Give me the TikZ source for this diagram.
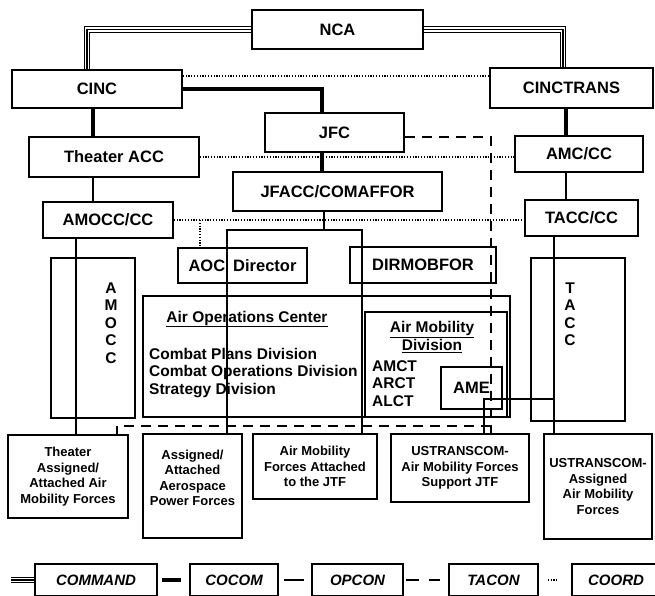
\documentclass[tikz,border=0pt]{standalone}
\usepackage{fontspec}
\setmainfont{Liberation Sans}
\usetikzlibrary{calc}

\tikzset{
  cmdbox/.style 2 args={draw, line width=1.7pt, minimum width=#1, minimum height=#2, inner sep=0pt, align=center, font=\fontsize{16.5}{18}\selectfont\bfseries},
  forcebox/.style 2 args={draw, line width=1.7pt, minimum width=#1, minimum height=#2, inner sep=0pt, align=center, font=\fontsize{13}{15.5}\selectfont\bfseries},
  legendbox/.style={draw, line width=1.7pt, minimum width=#1, minimum height=32pt, inner sep=0pt, font=\fontsize{15}{18}\selectfont\bfseries\itshape},
  lbl/.style={inner sep=0pt, align=center, font=\fontsize{15.5}{17.5}\selectfont\bfseries},
  cmdline/.style={line width=6.5pt, postaction={draw=white, line width=4.3pt}, postaction={draw=black, line width=1.1pt}},
  cocomline/.style={line width=4pt},
  opconline/.style={line width=1.5pt},
  taconline/.style={line width=2pt, dash pattern=on 10pt off 7pt},
  coordline/.style={line width=1.6pt, dash pattern=on 1.2pt off 1.6pt}
}

\begin{document}
\begin{tikzpicture}[x=1pt,y=-1pt]
\clip (0,0) rectangle (655,595);

% command chain
\node[cmdbox={171pt}{39pt}] (nca) at (337.5,29.5) {NCA};
\node[cmdbox={170pt}{38pt}] (cinc) at (97,89) {CINC};
\node[cmdbox={163pt}{40pt}] (cinctrans) at (571.5,88) {CINCTRANS};
\node[cmdbox={139pt}{39pt}] (jfc) at (334.5,132.5) {JFC};
\node[cmdbox={170pt}{40pt}] (thacc) at (114,157) {Theater ACC};
\node[cmdbox={128pt}{36pt}] (amc) at (579,154) {AMC/CC};
\node[cmdbox={209pt}{39pt}] (jfacc) at (337.5,191.5) {JFACC/COMAFFOR};
\node[cmdbox={130pt}{36pt}] (amocccc) at (108,220) {AMOCC/CC};
\node[cmdbox={113pt}{36pt}] (tacccc) at (581.5,218) {TACC/CC};
\node[cmdbox={129pt}{35pt}] (aocdir) at (242.5,265.5) {AOC\hspace{8pt}Director};
\node[cmdbox={146pt}{36pt}] (dirmob) at (423,265) {DIRMOBFOR};

% operations centers
\node[cmdbox={84pt}{160pt}] (amocc) at (93,338) {};
\node[lbl] (amocclbl) at (111,323) {A\\M\\O\\C\\C};
\node[cmdbox={94pt}{163pt}] (taccbox) at (578,339.5) {};
\node[lbl] (tacclbl) at (570,314) {T\\A\\C\\C};

\node[cmdbox={367pt}{121pt}] (aoc) at (326.5,356.5) {};
\node[lbl] (aoctitle) at (247,319) {\underline{Air Operations Center}};
\node[lbl, align=left, anchor=north west] (aocdivs) at (149,348) {Combat Plans Division\\Combat Operations Division\\Strategy Division};

\node[cmdbox={142pt}{105pt}] (amd) at (436,364.5) {};
\node[lbl] (amdtitle) at (432,337) {\underline{Air Mobility}\\\underline{Division}};
\node[lbl, align=left, anchor=north west] (amdteams) at (372,360) {AMCT\\ARCT\\ALCT};
\node[cmdbox={61pt}{42pt}] (ame) at (471.5,388) {AME};

% forces
\node[forcebox={120pt}{83pt}] (thf) at (68,476.5) {Theater\\Assigned/\\Attached Air\\Mobility Forces};
\node[forcebox={99pt}{104pt}, text depth=16pt] (asg) at (192.5,486) {Assigned/\\Attached\\Aerospace\\Power Forces};
\node[forcebox={124pt}{65pt}] (amf) at (315,466.5) {Air Mobility\\Forces Attached\\to the JTF};
\node[forcebox={138pt}{68pt}] (uss) at (460,468) {USTRANSCOM-\\Air Mobility Forces\\Support JTF};
\node[forcebox={108pt}{105pt}] (usa) at (598,486.5) {USTRANSCOM-\\Assigned\\Air Mobility\\Forces};

% links
\draw[cmdline] (nca.west) -| ([xshift=-10pt]cinc.north);
\draw[cmdline] (nca.east) -| ([xshift=-8.5pt]cinctrans.north);
\draw[coordline] ([yshift=13pt]cinc.east) -- ([yshift=13pt]cinc.east -| cinctrans.west);
\draw[cocomline] (cinc.east) -| ([xshift=-12.5pt]jfc.north);
\draw[cocomline] ([xshift=-4pt]cinc.south) -- ([xshift=-4pt]cinc.south |- thacc.north);
\draw[cocomline] ([xshift=-12.5pt]jfc.south) -- ([xshift=-12.5pt]jfc.south |- jfacc.north);
\draw[cocomline] ([xshift=-5.5pt]cinctrans.south) -- ([xshift=-5.5pt]cinctrans.south |- amc.north);
\draw[coordline] (thacc.east) -- (thacc.east -| amc.west);
\draw[opconline] ([xshift=-21pt]thacc.south) -- ([xshift=-21pt]thacc.south |- amocccc.north);
\draw[opconline] ([xshift=-13pt]amc.south) -- ([xshift=-13pt]amc.south |- tacccc.north);
\draw[coordline] (amocccc.east) -- (amocccc.east -| tacccc.west);
\coordinate (aoctap) at (200,220);
\draw[coordline] (aoctap) -- (aoctap |- aocdir.north);
\draw[opconline] ([xshift=-32pt]amocccc.south) -- ([xshift=-32pt]amocccc.south |- thf.north);
\draw[opconline] ([xshift=-27.5pt]tacccc.south) -- ([xshift=-27.5pt]tacccc.south |- usa.north);
\coordinate (split) at (324,230);
\draw[opconline] ([xshift=-13.5pt]jfacc.south) -- (split);
\draw[opconline] ([xshift=34.5pt]asg.north) |- (split) -| ([xshift=47pt]amf.north);
\coordinate (ustap) at (554,399);
\draw[opconline] (ustap) -| ([xshift=24pt]uss.north);
\coordinate (tacbend) at (491,426);
\draw[taconline] ([yshift=-4.5pt]jfc.east) -| ([xshift=31pt]uss.north);
\draw[taconline] (tacbend) -| ([xshift=49pt]thf.north);

% legend
\coordinate (keystart) at (11,580);
\node[legendbox=122pt] (kcmd) at (96,580) {COMMAND};
\node[legendbox=88pt] (kcocom) at (234,580) {COCOM};
\node[legendbox=91pt] (kopcon) at (357.5,580) {OPCON};
\node[legendbox=89pt] (ktacon) at (493.5,580) {TACON};
\node[legendbox=88pt] (kcoord) at (616,580) {COORD};
\draw[cmdline] (keystart) -- (kcmd.west);
\draw[cocomline, shorten <=4pt, shorten >=8pt] (kcmd.east) -- (kcocom.west);
\draw[opconline, shorten <=5pt, shorten >=7pt] (kcocom.east) -- (kopcon.west);
\draw[taconline, dash pattern=on 13pt off 10pt, shorten <=2pt, shorten >=8pt] (kopcon.east) -- (ktacon.west);
\draw[coordline, shorten <=9pt, shorten >=14pt] (ktacon.east) -- (kcoord.west);
\end{tikzpicture}
\end{document}
